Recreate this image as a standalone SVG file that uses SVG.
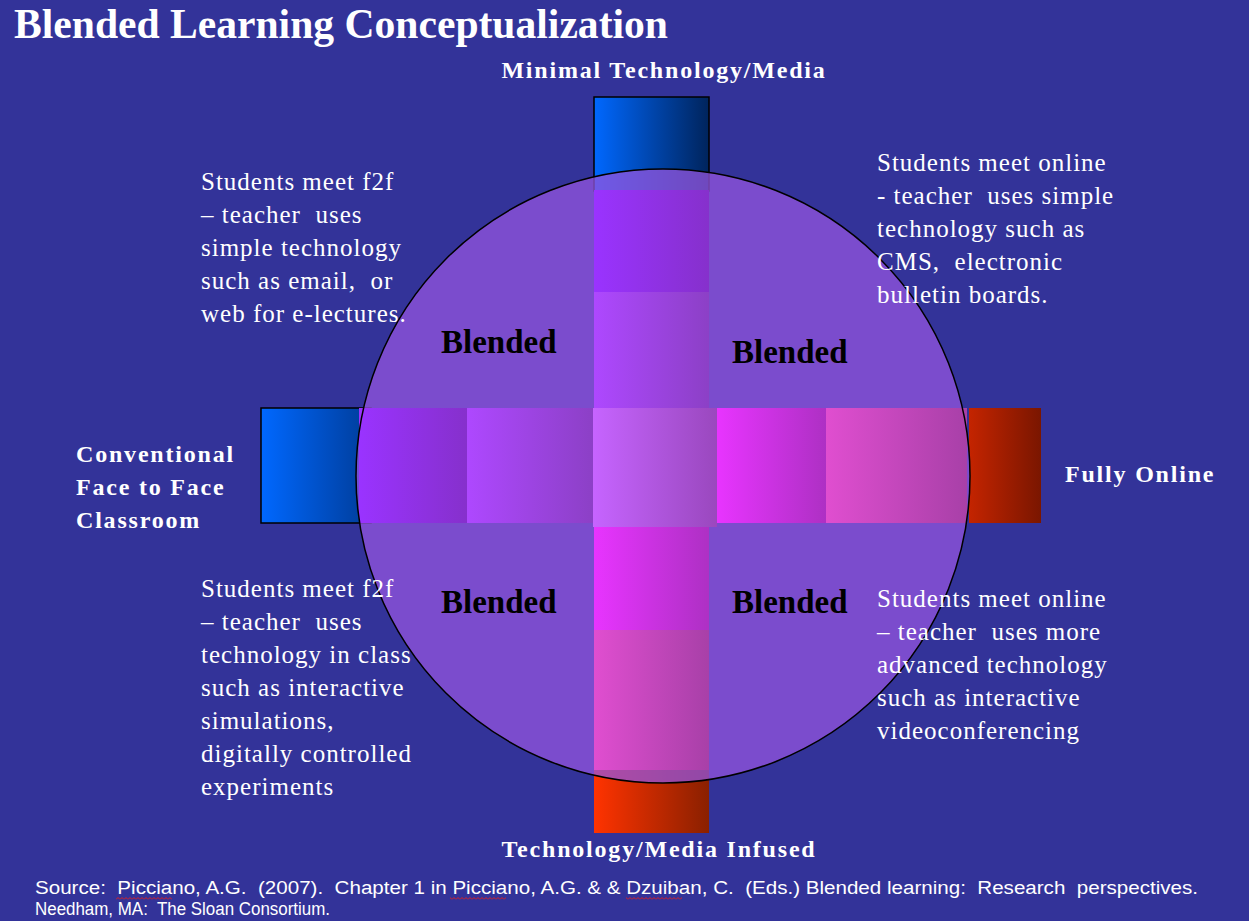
<svg xmlns="http://www.w3.org/2000/svg" width="1249" height="921" viewBox="0 0 1249 921">
<defs>
<linearGradient id="gBlue" x1="0" y1="0" x2="1" y2="0"><stop offset="0" stop-color="#0068ff"/><stop offset="1" stop-color="#00245c"/></linearGradient>
<linearGradient id="gBlueL" x1="0" y1="0" x2="1" y2="0"><stop offset="0" stop-color="#0068ff"/><stop offset="1" stop-color="#003c98"/></linearGradient>
<linearGradient id="gRedR" x1="0" y1="0" x2="1" y2="0"><stop offset="0" stop-color="#c42400"/><stop offset="1" stop-color="#7a1600"/></linearGradient>
<linearGradient id="gRedB" x1="0" y1="0" x2="1" y2="0"><stop offset="0" stop-color="#ff3300"/><stop offset="1" stop-color="#8a2000"/></linearGradient>
<linearGradient id="gP1" x1="0" y1="0" x2="1" y2="0"><stop offset="0" stop-color="#9a33ff"/><stop offset="1" stop-color="#8630cc"/></linearGradient>
<linearGradient id="gP2" x1="0" y1="0" x2="1" y2="0"><stop offset="0" stop-color="#ae48ff"/><stop offset="1" stop-color="#8c40c6"/></linearGradient>
<linearGradient id="gC" x1="0" y1="0" x2="1" y2="0"><stop offset="0" stop-color="#c664ff"/><stop offset="1" stop-color="#9a48be"/></linearGradient>
<linearGradient id="gM1" x1="0" y1="0" x2="1" y2="0"><stop offset="0" stop-color="#e834ff"/><stop offset="1" stop-color="#ae30c4"/></linearGradient>
<linearGradient id="gM2" x1="0" y1="0" x2="1" y2="0"><stop offset="0" stop-color="#e04ed0"/><stop offset="1" stop-color="#a840a8"/></linearGradient>
<pattern id="wave" x="0" y="0" width="4" height="3" patternUnits="userSpaceOnUse"><path d="M0,2.5 L2,0.5 L4,2.5" fill="none" stroke="#e02020" stroke-width="1"/></pattern>
</defs>
<style>
.body{font-family:"Liberation Serif","Times New Roman",serif;font-size:25px;fill:#ffffff;letter-spacing:1px;white-space:pre}
.lab{font-family:"Liberation Serif","Times New Roman",serif;font-size:24px;font-weight:bold;fill:#ffffff;letter-spacing:1.8px}
.bl{font-family:"Liberation Serif","Times New Roman",serif;font-size:33px;font-weight:bold;fill:#000000}
.src{font-family:"Liberation Sans",Arial,sans-serif;font-size:18px;fill:#ffffff;white-space:pre}
.box{stroke:#000000;stroke-width:1.5}
</style>
<rect x="0" y="0" width="1249" height="921" fill="#333399"/>
<text x="14" y="38" font-family="Liberation Serif, Times New Roman, serif" font-size="41.6" font-weight="bold" fill="#ffffff">Blended Learning Conceptualization</text>

<g id="end-boxes">
<rect class="box" x="594" y="97" width="115" height="94" fill="url(#gBlue)"/>
<rect class="box" x="261" y="408" width="110" height="115" fill="url(#gBlueL)"/>
<rect x="969" y="408" width="72" height="115" fill="url(#gRedR)"/>
<rect x="594" y="767" width="115" height="66" fill="url(#gRedB)"/>
</g>

<g id="circle">
<circle cx="663" cy="476" r="307" fill="#9456df" fill-opacity="0.75"/>
</g>

<g id="axis-segments">
<rect x="594" y="190" width="115" height="102" fill="url(#gP1)"/>
<rect x="594" y="292" width="115" height="116" fill="url(#gP2)"/>
<rect x="359" y="408" width="108" height="115" fill="url(#gP1)"/>
<rect x="467" y="408" width="126" height="115" fill="url(#gP2)"/>
<rect x="593" y="408" width="124" height="119" fill="url(#gC)"/>
<rect x="717" y="408" width="109" height="115" fill="url(#gM1)"/>
<rect x="826" y="408" width="141" height="115" fill="url(#gM2)"/>
<rect x="594" y="527" width="115" height="103" fill="url(#gM1)"/>
<rect x="594" y="630" width="115" height="140" fill="url(#gM2)"/>
</g>

<g id="circle-outline">
<circle cx="663" cy="476" r="307" fill="none" stroke="#000000" stroke-width="1.5"/>
</g>

<g id="axis-labels">
<text class="lab" x="664" y="78" text-anchor="middle">Minimal Technology/Media</text>
<text class="lab" x="659" y="857" text-anchor="middle">Technology/Media Infused</text>
<text class="lab" x="76" y="462">Conventional</text>
<text class="lab" x="76" y="495">Face to Face</text>
<text class="lab" x="76" y="528">Classroom</text>
<text class="lab" x="1065" y="482">Fully Online</text>
</g>

<g id="quadrant-labels">
<text class="bl" x="441" y="353">Blended</text>
<text class="bl" x="732" y="363">Blended</text>
<text class="bl" x="441" y="613">Blended</text>
<text class="bl" x="732" y="613">Blended</text>
</g>

<g id="note-tl">
<text class="body" x="201" y="190">Students meet f2f</text>
<text class="body" x="201" y="223">– teacher  uses</text>
<text class="body" x="201" y="256">simple technology</text>
<text class="body" x="201" y="289">such as email,  or</text>
<text class="body" x="201" y="322">web for e-lectures.</text>
</g>
<g id="note-tr">
<text class="body" x="877" y="171">Students meet online</text>
<text class="body" x="877" y="204">- teacher  uses simple</text>
<text class="body" x="877" y="237">technology such as</text>
<text class="body" x="877" y="270">CMS,  electronic</text>
<text class="body" x="877" y="303">bulletin boards.</text>
</g>
<g id="note-bl">
<text class="body" x="201" y="597">Students meet f2f</text>
<text class="body" x="201" y="630">– teacher  uses</text>
<text class="body" x="201" y="663">technology in class</text>
<text class="body" x="201" y="696">such as interactive</text>
<text class="body" x="201" y="729">simulations,</text>
<text class="body" x="201" y="762">digitally controlled</text>
<text class="body" x="201" y="795">experiments</text>
</g>
<g id="note-br">
<text class="body" x="877" y="607">Students meet online</text>
<text class="body" x="877" y="640">– teacher  uses more</text>
<text class="body" x="877" y="673">advanced technology</text>
<text class="body" x="877" y="706">such as interactive</text>
<text class="body" x="877" y="739">videoconferencing</text>
</g>

<g id="source">
<text class="src" x="35" y="894" textLength="1163" lengthAdjust="spacingAndGlyphs">Source:  Picciano, A.G.  (2007).  Chapter 1 in Picciano, A.G. &amp; &amp; Dzuiban, C.  (Eds.) Blended learning:  Research  perspectives.</text>
<text class="src" x="35" y="915" textLength="295" lengthAdjust="spacingAndGlyphs">Needham, MA:  The Sloan Consortium.</text>
<rect x="116" y="897" width="56" height="3" fill="url(#wave)"/>
<rect x="450" y="897" width="56" height="3" fill="url(#wave)"/>
<rect x="626" y="897" width="56" height="3" fill="url(#wave)"/>
</g>
</svg>
